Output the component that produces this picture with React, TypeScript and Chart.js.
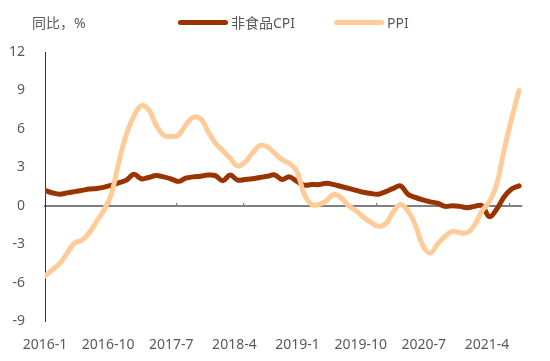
import React, { useEffect, useRef } from 'react';
import { Chart, registerables } from 'chart.js';

Chart.register(...registerables);

// Monthly categories 2016-1 … 2021-5
const months: string[] = (() => {
  const out: string[] = [];
  for (let y = 2016; y <= 2021; y++) {
    for (let m = 1; m <= 12; m++) {
      if (y === 2021 && m > 5) break;
      out.push(`${y}-${m}`);
    }
  }
  return out;
})();

const seriesNames = ['非食品CPI', 'PPI'];
const seriesColors = ['#993300', '#FFCC99'];

const nonFoodCpi: number[] = [
  1.2, 1.0, 0.9, 1.0, 1.1, 1.2, 1.3, 1.35, 1.45, 1.6, 1.8, 2.0,
  2.45, 2.1, 2.2, 2.35, 2.25, 2.1, 1.9, 2.15, 2.25, 2.3, 2.4, 2.35,
  1.95, 2.4, 2.0, 2.05, 2.1, 2.2, 2.3, 2.4, 2.05, 2.25, 1.9, 1.6,
  1.65, 1.65, 1.75, 1.65, 1.5, 1.35, 1.2, 1.05, 0.95, 0.9, 1.1, 1.35,
  1.55, 0.9, 0.65, 0.45, 0.3, 0.2, -0.05, 0.0, -0.05, -0.15, -0.05, 0.0,
  -0.85, -0.25, 0.7, 1.3, 1.55,
];

const ppi: number[] = [
  -5.5, -5.0, -4.5, -3.7, -2.9, -2.7, -2.1, -1.2, -0.3, 1.0, 3.5, 5.6,
  7.0, 7.8, 7.5, 6.3, 5.5, 5.4, 5.5, 6.3, 6.9, 6.8, 5.8, 4.9,
  4.3, 3.7, 3.1, 3.4, 4.1, 4.7, 4.6, 4.1, 3.6, 3.3, 2.7, 0.9,
  0.1, 0.1, 0.4, 0.9, 0.6, 0.0, -0.4, -0.9, -1.3, -1.6, -1.4, -0.5,
  0.1, -0.4, -1.5, -3.1, -3.7, -3.0, -2.4, -2.0, -2.1, -2.1, -1.5, -0.4,
  0.3, 1.7, 4.4, 6.8, 9.0,
];

const xTickLabels = ['2016-1', '2016-10', '2017-7', '2018-4', '2019-1', '2019-10', '2020-7', '2021-4'];
const yMin = -9;
const yMax = 12;
const yStep = 3;
const yTitle = '同比，%';

const FONT = '"Noto Sans", "Noto Sans CJK SC", sans-serif';
const TEXT = '#595959';

export default function App() {
  const ref = useRef<HTMLCanvasElement | null>(null);

  useEffect(() => {
    if (!ref.current) return;
    const chart = new Chart(ref.current, {
      type: 'line',
      data: {
        datasets: [
          {
            label: seriesNames[0],
            data: nonFoodCpi.map((v, i) => ({ x: i, y: v })),
            borderColor: seriesColors[0],
            backgroundColor: seriesColors[0],
            borderWidth: 5,
            pointRadius: 0,
            tension: 0.4,
            borderCapStyle: 'round',
            borderJoinStyle: 'round',
            order: 1,
          },
          {
            label: seriesNames[1],
            data: ppi.map((v, i) => ({ x: i, y: v })),
            borderColor: seriesColors[1],
            backgroundColor: seriesColors[1],
            borderWidth: 5,
            pointRadius: 0,
            tension: 0.4,
            borderCapStyle: 'round',
            borderJoinStyle: 'round',
            order: 0,
          },
        ],
      },
      options: {
        responsive: false,
        animation: false,
        devicePixelRatio: 1,
        layout: { padding: { top: 52, right: 28, bottom: 0, left: 0 } },
        plugins: { legend: { display: false }, tooltip: { enabled: false } },
        scales: {
          x: {
            type: 'linear',
            position: { y: 0 },
            min: 0,
            max: 64.4,
            afterBuildTicks: (scale: any) => {
              scale.ticks = xTickLabels.slice(1).map((l) => ({ value: months.indexOf(l) - 0.25 }));
            },
            ticks: { display: false },
            grid: { display: true, drawOnChartArea: false, drawTicks: true, tickLength: -4, color: '#7f7f7f', lineWidth: 1.2 },
            border: { display: true, color: '#7f7f7f', width: 2 },
          },
          x2: {
            type: 'linear',
            position: 'bottom',
            min: 0,
            max: 68,
            afterBuildTicks: (scale: any) => {
              scale.ticks = xTickLabels.map((l) => ({ value: months.indexOf(l) }));
            },
            afterFit: (scale: any) => {
              scale.height = 40;
            },
            ticks: {
              autoSkip: false,
              maxRotation: 0,
              padding: 16,
              color: TEXT,
              font: { family: FONT, size: 14 },
              callback: (value: any) => months[Math.round(Number(value))],
            },
            grid: { display: false, drawTicks: false },
            border: { display: false },
          },
          y: {
            type: 'linear',
            min: yMin,
            max: yMax,
            afterFit: (scale: any) => {
              scale.width = 45;
            },
            ticks: {
              stepSize: yStep,
              padding: 20,
              color: TEXT,
              font: { family: FONT, size: 14 },
            },
            grid: { display: false, drawTicks: false },
            border: { display: true, color: '#333333', width: 1 },
          },
        },
      },
    } as any);
    return () => chart.destroy();
  }, []);

  const textStyle: React.CSSProperties = {
    position: 'absolute',
    top: 14,
    fontFamily: FONT,
    fontSize: 14,
    lineHeight: '17px',
    color: TEXT,
    whiteSpace: 'nowrap',
  };
  const legendLeft = [178, 334];

  return (
    <div style={{ position: 'absolute', left: 0, top: 0, width: 550, height: 361, background: '#fff' }}>
      <canvas ref={ref} width={550} height={361} style={{ position: 'absolute', left: 0, top: 0 }} />
      <div style={{ ...textStyle, left: 32 }}>{yTitle}</div>
      {seriesNames.map((name, i) => (
        <React.Fragment key={name}>
          <div
            style={{
              position: 'absolute',
              left: legendLeft[i],
              top: 20,
              width: 50,
              height: 5,
              borderRadius: 2.5,
              background: seriesColors[i],
            }}
          />
          <div style={{ ...textStyle, left: legendLeft[i] + 53 }}>{name}</div>
        </React.Fragment>
      ))}
    </div>
  );
}
